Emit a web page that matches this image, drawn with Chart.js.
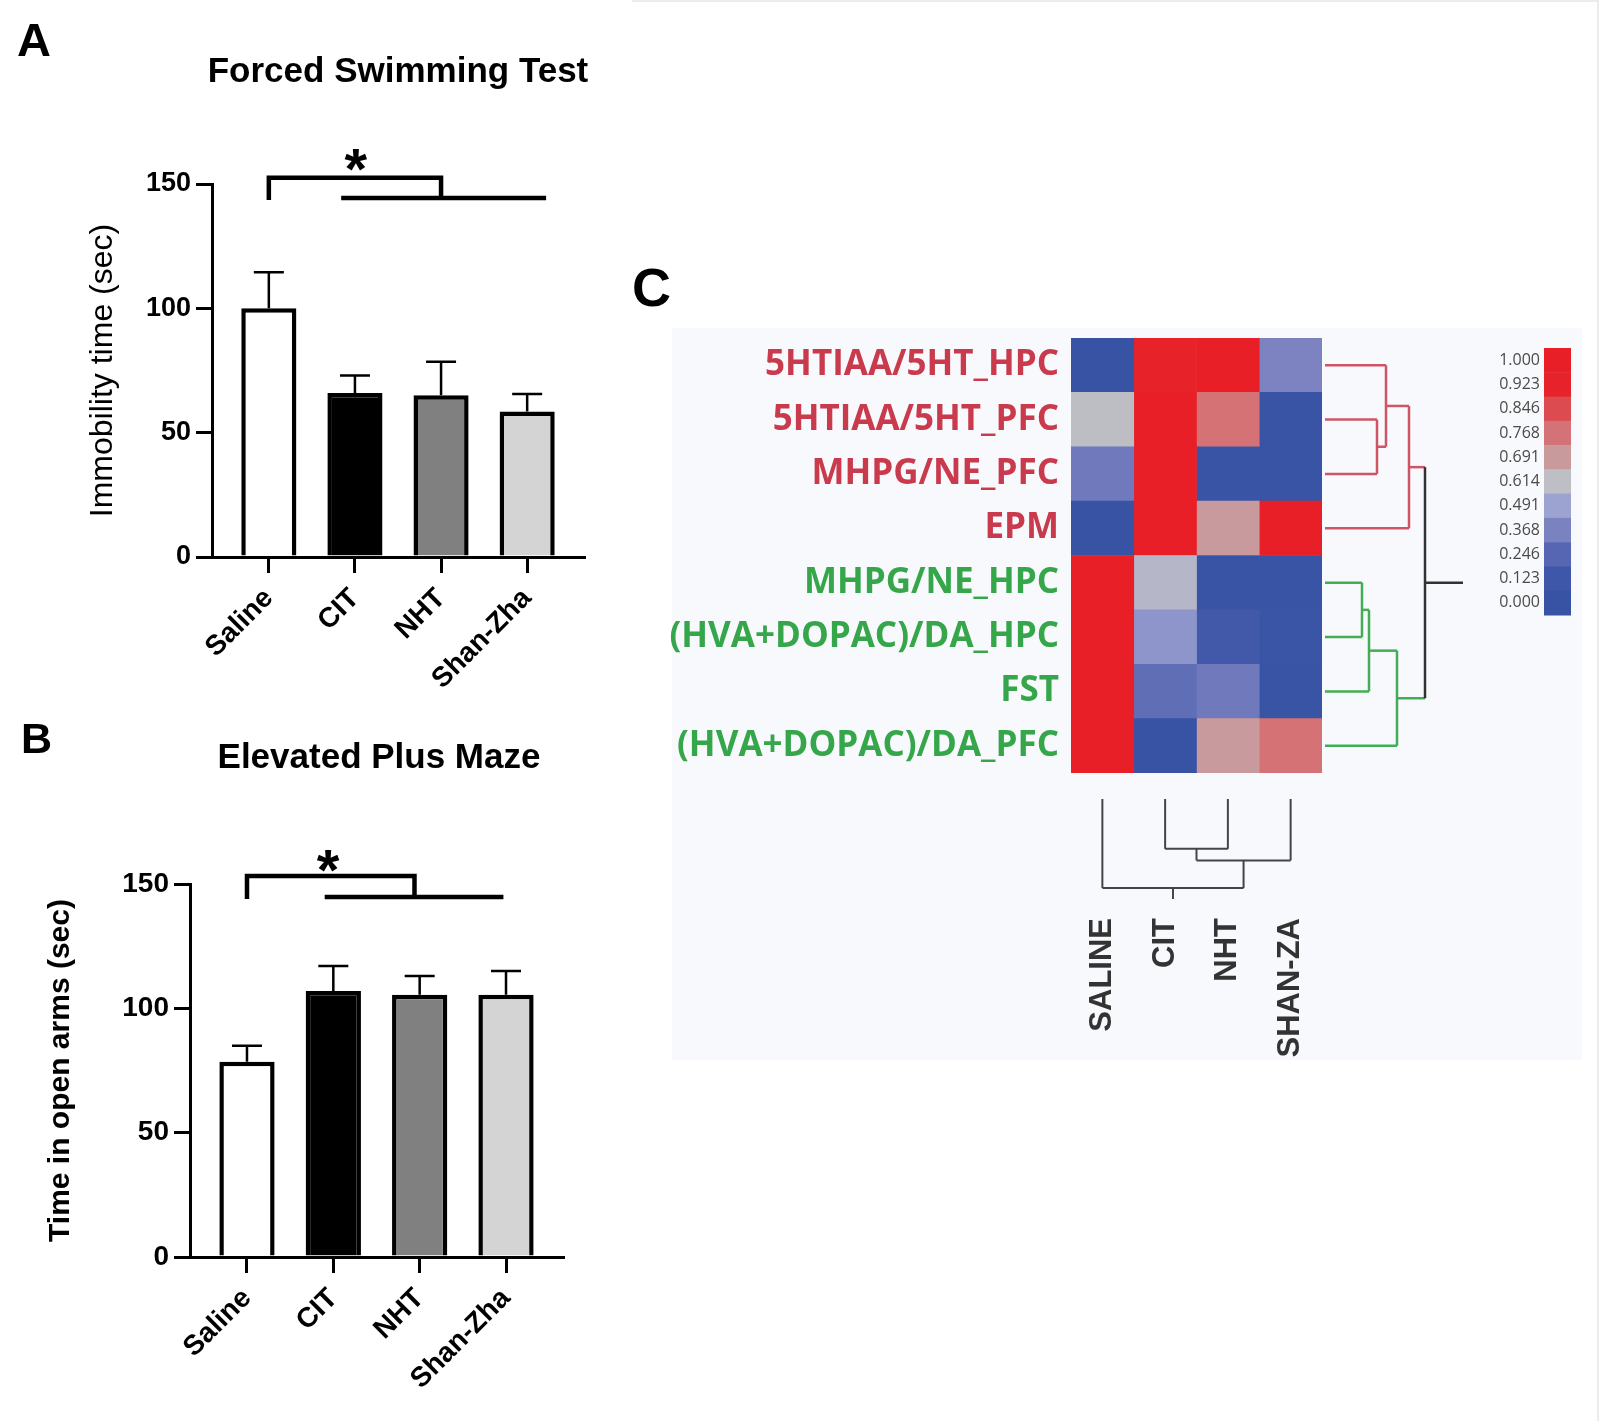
<!DOCTYPE html>
<html>
<head>
<meta charset="utf-8">
<title>FST / EPM / clustered heatmap</title>
<script src="https://cdn.jsdelivr.net/npm/chart.js@4.4.1/dist/chart.umd.min.js"></script>
<style>
  body { margin: 0; background: #fff; }
  #page { position: relative; width: 1600px; height: 1421px; overflow: hidden; }
  #page canvas { position: absolute; }
  #frame { position: absolute; left: 632px; top: 0; width: 965px; height: 1419px; border-top: 2px solid #ececec; border-right: 2px solid #ececec; }
</style>
</head>
<body>
<div id="page">
  <div id="frame"></div>
  <canvas id="chartA" width="620" height="700" style="left:0;top:0"></canvas>
  <canvas id="chartB" width="620" height="721" style="left:0;top:700px"></canvas>
  <canvas id="chartC" width="1000" height="850" style="left:600px;top:250px"></canvas>
</div>
<script>
var groups = ['Saline', 'CIT', 'NHT', 'Shan-Zha'];
var groupColors = ['#ffffff', '#000000', '#808080', '#d4d4d4'];
var yTicks = [0, 50, 100, 150];

// A - forced swimming test, immobility time (sec), mean and SEM
var fstMean = [100, 66, 65, 58.5];
var fstSem = [14.5, 7, 13.5, 7];

// B - elevated plus maze, time in open arms (sec), mean and SEM
var epmMean = [78.5, 107, 105.5, 105.5];
var epmSem = [6.5, 10, 7.5, 9.5];

// C - normalised values, rows x columns
var heatRows = ['5HTIAA/5HT_HPC', '5HTIAA/5HT_PFC', 'MHPG/NE_PFC', 'EPM',
                'MHPG/NE_HPC', '(HVA+DOPAC)/DA_HPC', 'FST', '(HVA+DOPAC)/DA_PFC'];
var heatCols = ['SALINE', 'CIT', 'NHT', 'SHAN-ZA'];
var heatValues = [
  [0.00, 0.95, 1.00, 0.37],
  [0.61, 1.00, 0.77, 0.02],
  [0.33, 1.00, 0.03, 0.03],
  [0.01, 1.00, 0.69, 1.00],
  [1.00, 0.58, 0.03, 0.03],
  [1.00, 0.44, 0.14, 0.05],
  [1.00, 0.28, 0.33, 0.03],
  [1.00, 0.01, 0.69, 0.77]
];
var rowCluster = [0, 0, 0, 0, 1, 1, 1, 1];
var scaleLevels = [0.000, 0.123, 0.246, 0.368, 0.491, 0.614, 0.691, 0.768, 0.846, 0.923, 1.000];
var scaleColors = ['#3953a4', '#3f57a8', '#5666b2', '#7b82c0', '#9ca3d1', '#bebfc4',
                   '#c89a9c', '#d47377', '#dc4b50', '#e6232a', '#e81f26'];
// linkage rows: [a, b, height], indices >= n point at earlier merges
var rowLinkage = [[1, 2, 0.52], [0, 8, 0.61], [9, 3, 0.84], [4, 5, 0.37], [11, 6, 0.44], [12, 7, 0.72], [10, 13, 1.0]];
var rowMergeCluster = [0, 0, 0, 1, 1, 1, 2];
var colLinkage = [[1, 2, 0.56], [4, 3, 0.69], [0, 5, 1.0]];

var sans = '"Liberation Sans", Arial, sans-serif';
var clusterColors = ['#cf5566', '#43ad55', '#333333'];
var labelColors = ['#c93a4d', '#36a64b'];

function hexToRgb(h) {
  return [parseInt(h.substr(1, 2), 16), parseInt(h.substr(3, 2), 16), parseInt(h.substr(5, 2), 16)];
}

function valueColor(v) {
  for (var i = 1; i < scaleLevels.length; i++) {
    if (v <= scaleLevels[i]) {
      var t = (v - scaleLevels[i - 1]) / (scaleLevels[i] - scaleLevels[i - 1]);
      var a = hexToRgb(scaleColors[i - 1]), b = hexToRgb(scaleColors[i]);
      return 'rgb(' + a.map(function(c, k) { return Math.round(c + (b[k] - c) * t); }).join(',') + ')';
    }
  }
  return scaleColors[scaleColors.length - 1];
}

function makeBarChart(id, means, sems, cfg) {
  var decor = {
    id: 'decor',
    afterDraw: function(chart) {
      var ctx = chart.ctx, xs = chart.scales.x, ys = chart.scales.y;
      var area = chart.chartArea;
      ctx.save();
      ctx.strokeStyle = '#000';
      ctx.fillStyle = '#000';

      // upper error bars
      ctx.lineWidth = 2.5;
      means.forEach(function(m, i) {
        var px = xs.getPixelForValue(i);
        var top = ys.getPixelForValue(m + sems[i]);
        ctx.beginPath();
        ctx.moveTo(px, ys.getPixelForValue(m));
        ctx.lineTo(px, top);
        ctx.moveTo(px - 15, top);
        ctx.lineTo(px + 15, top);
        ctx.stroke();
      });

      // significance bracket
      var b = cfg.bracket;
      ctx.lineWidth = 4.5;
      ctx.beginPath();
      ctx.moveTo(xs.getPixelForValue(b.from), ys.getPixelForValue(b.low) + 2);
      ctx.lineTo(xs.getPixelForValue(b.from), ys.getPixelForValue(b.high));
      ctx.lineTo(xs.getPixelForValue(b.to), ys.getPixelForValue(b.high));
      ctx.lineTo(xs.getPixelForValue(b.to), ys.getPixelForValue(b.low));
      ctx.moveTo(xs.getPixelForValue(b.span[0]), ys.getPixelForValue(b.low));
      ctx.lineTo(xs.getPixelForValue(b.span[1]), ys.getPixelForValue(b.low));
      ctx.stroke();

      ctx.textAlign = 'center';
      ctx.textBaseline = 'alphabetic';
      ctx.font = 'bold 58px ' + sans;
      ctx.fillText('*', xs.getPixelForValue(b.star[0]), ys.getPixelForValue(b.star[1]) + 30);

      // panel letter and title
      ctx.textAlign = 'left';
      ctx.font = 'bold ' + cfg.letterSize + 'px ' + sans;
      ctx.fillText(cfg.letter, cfg.letterX, cfg.letterY);
      ctx.textAlign = 'center';
      ctx.font = 'bold 35px ' + sans;
      ctx.fillText(cfg.title, cfg.titleX, cfg.titleY);

      // y axis title
      ctx.save();
      ctx.translate(cfg.yTitleX, (area.top + area.bottom) / 2);
      ctx.rotate(-Math.PI / 2);
      ctx.textBaseline = 'middle';
      ctx.font = cfg.yTitleFont;
      ctx.fillText(cfg.yTitle, 0, 0);
      ctx.restore();
      ctx.restore();
    }
  };

  var axisGrid = { drawOnChartArea: false, drawTicks: true, tickLength: 16, color: '#000', lineWidth: 3, offset: false };

  return new Chart(document.getElementById(id), {
    type: 'bar',
    data: {
      datasets: [{
        data: means.map(function(m, i) { return { x: i, y: m }; }),
        backgroundColor: groupColors,
        borderColor: '#000',
        borderWidth: 4.5,
        categoryPercentage: 1,
        barPercentage: 0.64
      }]
    },
    options: {
      responsive: false,
      animation: false,
      layout: { padding: { top: cfg.top, right: cfg.right, left: 0, bottom: 0 } },
      plugins: { legend: { display: false }, tooltip: { enabled: false } },
      scales: {
        x: {
          type: 'linear',
          offset: false,
          min: -0.66,
          max: 3.66,
          afterBuildTicks: function(s) { s.ticks = groups.map(function(g, i) { return { value: i }; }); },
          afterFit: function(s) { s.height = cfg.xHeight; },
          ticks: {
            callback: function(v) { return groups[v]; },
            autoSkip: false, minRotation: 45, maxRotation: 45, padding: 9,
            color: '#000', font: { family: sans, size: 28, weight: 'bold' }
          },
          grid: axisGrid,
          border: { color: '#000', width: 3 }
        },
        y: {
          min: 0,
          max: 150,
          afterBuildTicks: function(s) { s.ticks = yTicks.map(function(v) { return { value: v }; }); },
          afterFit: function(s) { s.width = cfg.yWidth; },
          ticks: { color: '#000', padding: 5, font: { family: sans, size: cfg.tickSize, weight: 'bold' } },
          grid: axisGrid,
          border: { color: '#000', width: 3 }
        }
      }
    },
    plugins: [decor]
  });
}

makeBarChart('chartA', fstMean, fstSem, {
  top: 184, right: 36, yWidth: 212, xHeight: 143, tickSize: 27,
  letter: 'A', letterSize: 47, letterX: 17, letterY: 56,
  title: 'Forced Swimming Test', titleX: 398, titleY: 82,
  yTitle: 'Immobility time (sec)', yTitleX: 103, yTitleFont: '32px ' + sans,
  bracket: { from: 0, to: 2, high: 152.5, low: 144.4, span: [0.84, 3.22], star: [1.01, 160] }
});

makeBarChart('chartB', epmMean, epmSem, {
  top: 184, right: 57, yWidth: 190, xHeight: 164, tickSize: 28,
  letter: 'B', letterSize: 43, letterX: 21, letterY: 53,
  title: 'Elevated Plus Maze', titleX: 379, titleY: 68,
  yTitle: 'Time in open arms (sec)', yTitleX: 61, yTitleFont: 'bold 30px ' + sans,
  bracket: { from: 0, to: 1.94, high: 153.2, low: 144.8, span: [0.9, 2.97], star: [0.94, 159.5] }
});

function drawDendrogram(ctx, leafPos, leafColors, linkage, mergeColors, toPix, alongX) {
  var pos = leafPos.slice();
  var hts = leafPos.map(function() { return 0; });
  var cols = leafColors.slice();
  linkage.forEach(function(m, k) {
    var a = m[0], b = m[1];
    var hm = toPix(m[2]);
    var seg = function(from, to, p, color) {
      ctx.strokeStyle = color;
      ctx.beginPath();
      if (alongX) { ctx.moveTo(from, p); ctx.lineTo(to, p); }
      else { ctx.moveTo(p, from); ctx.lineTo(p, to); }
      ctx.stroke();
    };
    seg(toPix(hts[a]), hm, pos[a], cols[a]);
    seg(toPix(hts[b]), hm, pos[b], cols[b]);
    ctx.strokeStyle = mergeColors[k];
    ctx.beginPath();
    if (alongX) { ctx.moveTo(hm, pos[a]); ctx.lineTo(hm, pos[b]); }
    else { ctx.moveTo(pos[a], hm); ctx.lineTo(pos[b], hm); }
    ctx.stroke();
    pos.push((pos[a] + pos[b]) / 2);
    hts.push(m[2]);
    cols.push(mergeColors[k]);
  });
  return pos[pos.length - 1];
}

var heatDecor = {
  id: 'heatDecor',
  beforeDraw: function(chart) {
    var ctx = chart.ctx;
    ctx.save();
    ctx.fillStyle = '#f8f9fc';
    ctx.fillRect(72, 78, 910, 732);
    ctx.restore();
  },
  afterDraw: function(chart) {
    var ctx = chart.ctx, xs = chart.scales.x, ys = chart.scales.y;
    var area = chart.chartArea;
    ctx.save();
    ctx.fillStyle = '#000';
    ctx.font = 'bold 54px ' + sans;
    ctx.textAlign = 'left';
    ctx.fillText('C', 32, 56);

    // row dendrogram, to the right of the cells
    ctx.lineWidth = 2.5;
    var rowPos = heatRows.map(function(r, i) { return ys.getPixelForValue(i); });
    var rowRoot = drawDendrogram(ctx, rowPos,
      rowCluster.map(function(c) { return clusterColors[c]; }),
      rowLinkage, rowMergeCluster.map(function(c) { return clusterColors[c]; }),
      function(h) { return area.right + 3 + h * 100; }, true);
    ctx.strokeStyle = clusterColors[2];
    ctx.beginPath();
    ctx.moveTo(area.right + 103, rowRoot);
    ctx.lineTo(area.right + 141, rowRoot);
    ctx.stroke();

    // column dendrogram, under the cells
    ctx.lineWidth = 2;
    var colPos = heatCols.map(function(c, j) { return xs.getPixelForValue(j + 0.5); });
    var grey = heatCols.map(function() { return '#444'; });
    var colRoot = drawDendrogram(ctx, colPos, grey, colLinkage,
      colLinkage.map(function() { return '#444'; }),
      function(h) { return area.bottom + 26 + h * 89; }, false);
    ctx.strokeStyle = '#444';
    ctx.beginPath();
    ctx.moveTo(colRoot, area.bottom + 115);
    ctx.lineTo(colRoot, area.bottom + 126);
    ctx.stroke();

    // colour key
    var keyX = 944, keyTop = 98, band = 267 / scaleLevels.length;
    ctx.font = '16px "Open Sans", sans-serif';
    ctx.textAlign = 'right';
    ctx.textBaseline = 'middle';
    for (var i = 0; i < scaleLevels.length; i++) {
      var k = scaleLevels.length - 1 - i;
      ctx.fillStyle = scaleColors[k];
      ctx.fillRect(keyX, keyTop + i * band, 27, band + 0.5);
      ctx.fillStyle = '#4a4a4a';
      ctx.fillText(scaleLevels[k].toFixed(3), keyX - 4, keyTop + (i + 0.5) * band);
    }
    ctx.restore();
  }
};

new Chart(document.getElementById('chartC'), {
  type: 'bar',
  data: {
    labels: heatRows,
    datasets: heatCols.map(function(col, j) {
      return {
        label: col,
        data: heatRows.map(function() { return 1; }),
        backgroundColor: heatValues.map(function(row) { return valueColor(row[j]); }),
        borderWidth: 0,
        categoryPercentage: 1,
        barPercentage: 1
      };
    })
  },
  options: {
    indexAxis: 'y',
    responsive: false,
    animation: false,
    layout: { padding: { top: 88, right: 278, left: 0, bottom: 0 } },
    plugins: { legend: { display: false }, tooltip: { enabled: false } },
    scales: {
      x: {
        type: 'linear',
        stacked: true,
        min: 0,
        max: 4,
        afterBuildTicks: function(s) { s.ticks = heatCols.map(function(c, j) { return { value: j + 0.5 }; }); },
        afterFit: function(s) { s.height = 327; },
        ticks: {
          callback: function(v) { return heatCols[Math.floor(v)]; },
          autoSkip: false, minRotation: 90, maxRotation: 90, padding: 145,
          color: '#333', font: { family: sans, size: 31, weight: 'bold' }
        },
        grid: { display: false, drawTicks: false },
        border: { display: false }
      },
      y: {
        stacked: true,
        afterFit: function(s) { s.width = 471; },
        ticks: {
          autoSkip: false, padding: 12,
          color: function(c) { return labelColors[rowCluster[c.index]]; },
          font: { family: '"Open Sans", sans-serif', size: 35, weight: 'bold' }
        },
        grid: { display: false, drawTicks: false },
        border: { display: false }
      }
    }
  },
  plugins: [heatDecor]
});
</script>
</body>
</html>
